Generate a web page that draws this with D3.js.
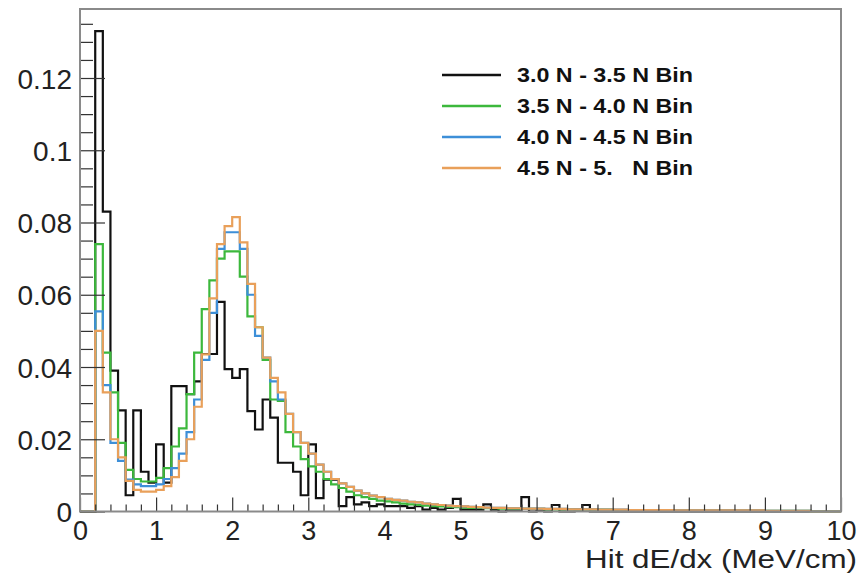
<!DOCTYPE html>
<html><head><meta charset="utf-8">
<script src="https://cdn.jsdelivr.net/npm/d3@7"></script>
<style>
html,body{margin:0;padding:0;background:#fff;}
svg{display:block;font-family:"Liberation Sans",Arial,Helvetica,sans-serif;}
</style></head>
<body><svg id="c" width="860" height="578"></svg>
<script>
// bin lower edges (width 0.1) from 0 to 10
const binLow = [0.0,0.1,0.2,0.3,0.4,0.5,0.6,0.7,0.8,0.9,1.0,1.1,1.2,1.3,1.4,1.5,1.6,1.7,1.8,1.9,
2.0,2.1,2.2,2.3,2.4,2.5,2.6,2.7,2.8,2.9,3.0,3.1,3.2,3.3,3.4,3.5,3.6,3.7,3.8,3.9,
4.0,4.1,4.2,4.3,4.4,4.5,4.6,4.7,4.8,4.9,5.0,5.1,5.2,5.3,5.4,5.5,5.6,5.7,5.8,5.9,
6.0,6.1,6.2,6.3,6.4,6.5,6.6,6.7,6.8,6.9,7.0,7.1,7.2,7.3,7.4,7.5,7.6,7.7,7.8,7.9,
8.0,8.1,8.2,8.3,8.4,8.5,8.6,8.7,8.8,8.9,9.0,9.1,9.2,9.3,9.4,9.5,9.6,9.7,9.8,9.9];
const binWidth = 0.1;

const seriesNames = ["3.0 N - 3.5 N Bin","3.5 N - 4.0 N Bin","4.0 N - 4.5 N Bin","4.5 N - 5.   N Bin"];
const seriesColors = ["#111111","#3cb83c","#3d8fd8","#e9a05a"];

const black = [0,0,0.133,0.083,0.039,0.028,0.0045,0.028,0.011,0.008,
0.0186,0.008,0.0347,0.0347,0.0325,0.036,0.0436,0.0436,0.058,0.0394,
0.037,0.0394,0.0278,0.0227,0.031,0.026,0.0135,0.0135,0.011,0.0045,
0.0186,0.0037,0.0088,0.0088,0.0015,0.004,0.002,0.0025,0.0015,0.002,
0.0015,0.0015,0.0015,0.001,0.0015,0.0005,0.001,0.0005,0.001,0.0035,
0.0005,0.0005,0.0005,0.002,0.0005,0,0.0005,0.0005,0.004,0,
0.0005,0,0.0018,0,0,0.0005,0.0018,0,0,0,
0,0,0,0,0,0,0,0,0,0,
0,0,0,0,0,0,0,0,0,0,
0,0,0,0,0,0,0,0,0,0];

const green = [0,0,0.074,0.044,0.033,0.019,0.0115,0.009,0.0083,0.0083,
0.0093,0.012,0.018,0.023,0.0325,0.044,0.056,0.064,0.070,0.072,
0.072,0.065,0.054,0.051,0.042,0.031,0.0306,0.022,0.018,0.0145,
0.0125,0.011,0.009,0.0075,0.0065,0.0055,0.0045,0.004,0.0035,0.003,
0.0028,0.0025,0.0022,0.002,0.0018,0.0016,0.0015,0.0014,0.0013,0.0012,
0.0011,0.001,0.001,0.0009,0.0009,0.0008,0.0008,0.0008,0.0007,0.0007,
0.0007,0.0006,0.0006,0.0006,0.0006,0.0005,0.0005,0.0005,0.0005,0.0005,
0.0004,0.0004,0.0004,0.0004,0.0004,0.0004,0.0004,0.0003,0.0003,0.0003,
0.0003,0.0003,0.0003,0.0003,0.0003,0.0003,0.0003,0.0003,0.0003,0.0003,
0.0002,0.0002,0.0002,0.0002,0.0002,0.0002,0,0,0,0];

const blue = [0,0,0.0554,0.035,0.019,0.014,0.0088,0.0075,0.007,0.007,
0.0075,0.009,0.012,0.016,0.022,0.031,0.042,0.055,0.0727,0.0773,
0.0773,0.0727,0.060,0.0486,0.0426,0.036,0.031,0.027,0.022,0.019,
0.016,0.013,0.011,0.009,0.0078,0.0068,0.0058,0.005,0.0044,0.004,
0.0035,0.0032,0.003,0.0027,0.0025,0.0022,0.002,0.0018,0.0016,0.0015,
0.0014,0.0013,0.0012,0.0011,0.001,0.001,0.0009,0.0009,0.0008,0.0008,
0.0008,0.0007,0.0007,0.0007,0.0006,0.0006,0.0006,0.0006,0.0005,0.0005,
0.0005,0.0005,0.0004,0.0004,0.0004,0.0004,0.0004,0.0004,0.0003,0.0003,
0.0003,0.0003,0.0003,0.0003,0.0003,0.0003,0.0003,0.0003,0.0003,0.0003,
0.0002,0.0002,0.0002,0.0002,0.0002,0.0002,0,0,0,0];

const orange = [0,0,0.050,0.033,0.020,0.015,0.0085,0.006,0.0055,0.0055,
0.006,0.007,0.0095,0.014,0.020,0.029,0.0435,0.059,0.074,0.079,
0.0815,0.0745,0.063,0.051,0.0426,0.037,0.033,0.027,0.022,0.019,
0.016,0.013,0.011,0.009,0.0078,0.0068,0.0058,0.005,0.0044,0.004,
0.0035,0.0032,0.003,0.0027,0.0025,0.0022,0.002,0.0018,0.0016,0.0015,
0.0014,0.0013,0.0012,0.0011,0.001,0.001,0.0009,0.0009,0.0008,0.0008,
0.0008,0.0007,0.0007,0.0007,0.0006,0.0006,0.0006,0.0006,0.0005,0.0005,
0.0005,0.0005,0.0004,0.0004,0.0004,0.0004,0.0004,0.0004,0.0003,0.0003,
0.0003,0.0003,0.0003,0.0003,0.0003,0.0003,0.0003,0.0003,0.0003,0.0003,
0.0002,0.0002,0.0002,0.0002,0.0002,0.0002,0,0,0,0];

const xMajorTicks = [0,1,2,3,4,5,6,7,8,9,10];
const yMajorTicks = [0,0.02,0.04,0.06,0.08,0.1,0.12];
const yTickLabels = ["0","0.02","0.04","0.06","0.08","0.1","0.12"];
const xTitle = "Hit dE/dx (MeV/cm)";

const svg = d3.select("#c");
const L = 80, R = 841, T = 9, B = 511.5;
const x = d3.scaleLinear().domain([0,10]).range([L,R]);
const y = d3.scaleLinear().domain([0,0.1391]).range([B,T]);

// histograms
const allSeries = [black, green, blue, orange];
const line = d3.line().x(d=>x(d[0])).y(d=>y(d[1])).curve(d3.curveStepAfter);
allSeries.forEach((vals,i)=>{
  const pts = binLow.map((b,j)=>[b, vals[j]]);
  pts.unshift([binLow[0], 0]);
  pts.push([binLow[binLow.length-1]+binWidth, vals[vals.length-1]]);
  pts.push([binLow[binLow.length-1]+binWidth, 0]);
  svg.append("path").attr("d", line(pts)).attr("fill","none")
    .attr("stroke", seriesColors[i]).attr("stroke-width",2.2).attr("stroke-linejoin","miter");
});

// minor ticks
const xMinor = d3.range(0,10.001,0.2).filter(v=>Math.abs(v-Math.round(v))>1e-6);
const yMinor = d3.range(0,0.1391,0.005).filter(v=>Math.abs(v/0.02-Math.round(v/0.02))>1e-6);

const ax = svg.append("g").attr("transform",`translate(0,${B})`);
ax.call(d3.axisBottom(x).tickValues(xMinor).tickSize(-7).tickFormat(""));
ax.append("g").call(d3.axisBottom(x).tickValues(xMajorTicks).tickSize(-14).tickSizeOuter(0).tickFormat(d=>String(d)));
ax.selectAll("path.domain").remove();
ax.selectAll("line").attr("stroke","#333").attr("stroke-width",1.2);
ax.selectAll("text").attr("font-size",27).attr("fill","#222").attr("dy",0).attr("y",28)
  .attr("font-family","'Liberation Sans',Arial,sans-serif");

const ay = svg.append("g").attr("transform",`translate(${L},0)`);
ay.call(d3.axisLeft(y).tickValues(yMinor).tickSize(-13).tickFormat(""));
ay.append("g").call(d3.axisLeft(y).tickValues(yMajorTicks).tickSize(-25).tickSizeOuter(0)
  .tickFormat((d,i)=>yTickLabels[i]));
ay.selectAll("path.domain").remove();
ay.selectAll("line").attr("stroke","#333").attr("stroke-width",1.2);
ay.selectAll("text").attr("font-size",28).attr("fill","#222").attr("x",-8).attr("dy","0.36em")
  .attr("font-family","'Liberation Sans',Arial,sans-serif");

// frame
svg.append("rect").attr("x",L).attr("y",T).attr("width",R-L).attr("height",B-T)
  .attr("fill","none").attr("stroke","#8a8a8a").attr("stroke-width",2);

// x title
svg.append("text").attr("x",857).attr("y",568).attr("text-anchor","end")
  .attr("font-size",25).attr("fill","#222")
  .attr("textLength",272).attr("lengthAdjust","spacingAndGlyphs").text(xTitle);

// legend
const lg = svg.append("g");
const legY = [75,106,137,168];
seriesNames.forEach((n,i)=>{
  lg.append("line").attr("x1",442).attr("x2",501).attr("y1",legY[i]).attr("y2",legY[i])
    .attr("stroke",seriesColors[i]).attr("stroke-width",2.5);
  lg.append("text").attr("x",517).attr("y",legY[i]).attr("dy","0.36em")
    .attr("font-size",20).attr("font-weight","bold").attr("fill","#111")
    .attr("textLength",176).attr("lengthAdjust","spacingAndGlyphs")
    .style("white-space","pre").text(n);
});
</script></body></html>
